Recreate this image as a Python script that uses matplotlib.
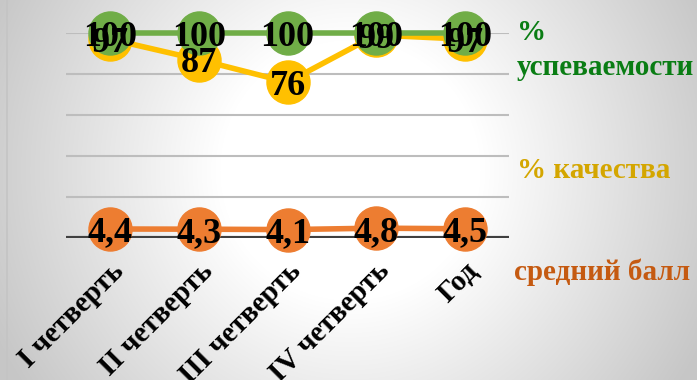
import numpy as np
import matplotlib
matplotlib.use('Agg')
import matplotlib.pyplot as plt
from matplotlib.lines import Line2D

plt.rcParams['font.family'] = ['Liberation Serif', 'DejaVu Serif']

categories = ['I четверть', 'II четверть', 'III четверть', 'IV четверть', 'Год']
uspevaemost = [100, 100, 100, 100, 100]
kachestvo = [97, 87, 76, 99, 97]
sredniy_ball = [4.4, 4.3, 4.1, 4.8, 4.5]
ball_labels = ['4,4', '4,3', '4,1', '4,8', '4,5']
series_names = ['%\nуспеваемости', '% качества', 'средний балл']

W, H = 697, 380
fig = plt.figure(figsize=(W / 100, H / 100), dpi=100)

# фон: радиальный градиент
bg = fig.add_axes([0, 0, 1, 1], zorder=-10)
yy, xx = np.mgrid[0:H, 0:W]
r = np.sqrt((xx - 350) ** 2 + (yy - 170) ** 2)
t = np.clip((r - 130) / 260, 0, 1)
shade = 1.0 - 0.22 * t
bg.imshow(np.dstack([shade, shade, shade]), extent=[0, W, H, 0], aspect='auto')
bg.set_xlim(0, W)
bg.set_ylim(H, 0)
bg.axis('off')
bg.add_line(Line2D([7, 7], [0, H], color='#c4c4c4', lw=1.2))

ax = fig.add_axes([66 / W, 142 / H, 443 / W, 205 / H])
ax.patch.set_alpha(0)
x = np.arange(len(categories))

for yg in [20, 40, 60, 80, 100]:
    ax.axhline(yg, color='#bdbdbd', lw=1.5, zorder=1)
ax.axhline(0, color='#404040', lw=3, zorder=2)

ms = 31
ax.plot(x, kachestvo, color='#ffc000', lw=4, marker='o', ms=ms, zorder=3, clip_on=False)
ax.plot(x, uspevaemost, color='#70ad47', lw=4, marker='o', ms=ms, zorder=4, clip_on=False)
ax.plot(x, sredniy_ball, color='#ed7d31', lw=4, marker='o', ms=ms, zorder=5, clip_on=False)

lab = dict(ha='center', va='center_baseline', fontsize=26, fontweight='bold',
           color='black', zorder=10)
for xi, v in zip(x, kachestvo):
    ax.text(xi, v, str(v), **lab)
for xi, v in zip(x, uspevaemost):
    ax.text(xi, v, str(v), **lab)
for xi, v, s in zip(x, sredniy_ball, ball_labels):
    ax.text(xi, v, s, **lab)

ax.set_xlim(-0.5, len(categories) - 0.5)
ax.set_ylim(0, 100)
ax.set_yticks([])
ax.set_xticks(x)
ax.set_xticklabels(categories, rotation=45, ha='right', rotation_mode='anchor',
                   fontsize=21, fontweight='bold')
ax.tick_params(axis='x', length=0, pad=14)
for sp in ax.spines.values():
    sp.set_visible(False)

fig.text(517 / W, 1 - 50 / H, series_names[0], color='#0a7d14', fontsize=21,
         fontweight='bold', va='center', ha='left', linespacing=1.35)
fig.text(517 / W, 1 - 170 / H, series_names[1], color='#d4a600', fontsize=21,
         fontweight='bold', va='center', ha='left')
fig.text(514 / W, 1 - 272 / H, series_names[2], color='#c55a11', fontsize=21,
         fontweight='bold', va='center', ha='left')

fig.savefig('out.png', dpi=100)
